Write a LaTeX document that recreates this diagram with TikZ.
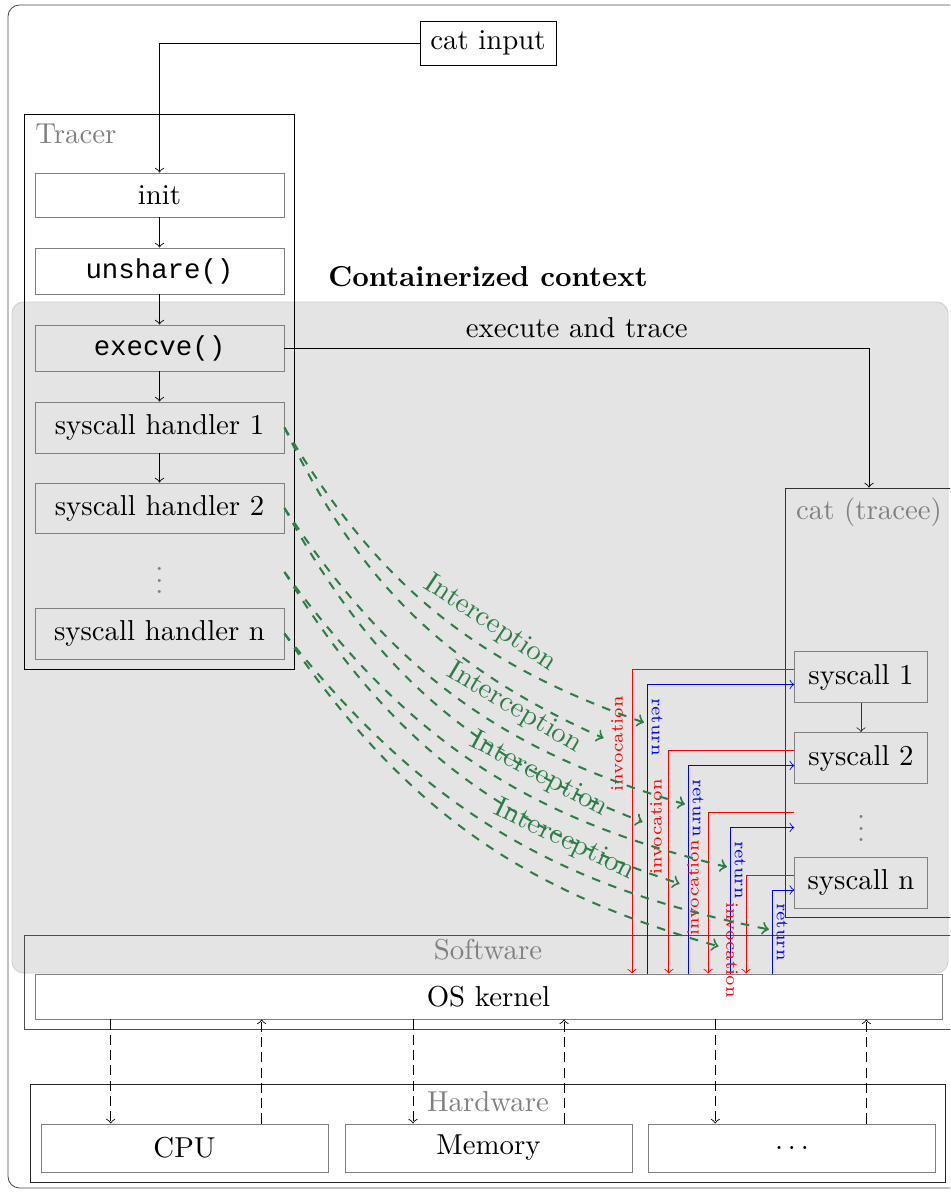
\documentclass[tikz,border=0pt]{standalone}
\usepackage{fontspec}
\setmonofont[Scale=0.95]{Liberation Mono}
\definecolor{ctxgray}{HTML}{E4E4E4}
\definecolor{ctxborder}{HTML}{CFCFCF}
\definecolor{igreen}{HTML}{2E7D46}
\tikzset{
  box/.style={draw=gray, inner sep=0pt, minimum width=86.4pt},
  sbox/.style={draw=gray, inner sep=0pt, minimum width=46pt, minimum height=17.7pt},
  hwbox/.style={draw=gray, inner sep=0pt, minimum width=99.6pt, minimum height=16.7pt},
  lab/.style={text=gray, inner sep=0pt},
  arr/.style={->, black},
  invl/.style={red, font=\fontsize{6}{7}\selectfont, inner sep=2.5pt},
  retl/.style={blue, font=\fontsize{6}{7}\selectfont, inner sep=2.5pt},
  icpt/.style={->, dashed, line width=0.7pt, igreen},
  hwarr/.style={->, black, dash pattern=on 3.5pt off 1.8pt},
}
\begin{document}
\begin{tikzpicture}[x=0.347pt, y=-0.347pt, line width=0.3pt]
\clip (0,0) rectangle (950,1194);
% outer frame
\draw[black!70, rounded corners=4pt] (8,5) rectangle (968,1188);
% containerized context region
\draw[ctxborder, fill=ctxgray, rounded corners=4pt] (12,302) rectangle (948,973);
\node[font=\bfseries, inner sep=0pt] (ctxtitle) at (488,277) {Containerized context};

% cat input
\node[draw, inner sep=0pt, minimum width=47.2pt, minimum height=15.3pt] (catin) at (488,43) {cat input};

% tracer
\node[draw, inner sep=0pt, minimum width=93.7pt, minimum height=192.6pt] (tracer) at (159,391.5) {};
\node[lab] (tracerlab) at (76,134) {Tracer};
\node[box, fill=white, minimum height=15.3pt] (init) at (159.5,195) {init};
\node[box, fill=white, minimum height=16pt] (unshare) at (159.5,271) {\texttt{unshare()}};
\node[box, minimum height=16pt] (execve) at (159.5,348) {\texttt{execve()}};
\node[box, minimum height=17.7pt] (h1) at (159.5,427.5) {syscall handler 1};
\node[box, minimum height=17.4pt] (h2) at (159.5,508) {syscall handler 2};
\node[box, draw=none, text=gray] (hd) at (159.5,572) {$\vdots$};
\node[box, minimum height=17.7pt] (hn) at (159.5,633.5) {syscall handler n};

\draw[arr] (catin.west) -| (init.north);
\draw[arr] (init) -- (unshare);
\draw[arr] (unshare) -- (execve);
\draw[arr] (execve) -- (h1);
\draw[arr] (h1) -- (h2);

% tracee
\node[draw=black!80, inner sep=0pt, minimum width=58.3pt, minimum height=148.9pt] (cat) at (869,702.5) {};
\node[lab] (catlab) at (869,512) {cat (tracee)};
\node[sbox] (s1) at (861,677) {syscall 1};
\node[sbox] (s2) at (861,758) {syscall 2};
\node[sbox, draw=none, text=gray] (sd) at (861,820) {$\vdots$};
\node[sbox] (sn) at (861,882.5) {syscall n};
\draw[arr, black!80] (s1) -- (s2);

\draw[arr] (execve.east) -| node[pos=0.25, above] {execute and trace} (cat.north);

% software / kernel
\node[draw=black!70, inner sep=0pt, minimum width=322pt, minimum height=32.6pt] (sw) at (488,982) {};
\node[lab] (swlab) at (488,950) {Software};
\node[draw=gray, fill=white, inner sep=0pt, minimum width=314.7pt, minimum height=15.6pt] (kernel) at (488.5,996.5) {OS kernel};

% invocation / return paths
\draw[red, ->] ([yshift=2.6pt]s1.west) -| ([xshift=49.8pt]kernel.north);
\draw[blue, ->] ([xshift=55.0pt]kernel.north) |- ([yshift=-2.6pt]s1.west);
\draw[red, ->] ([yshift=2.6pt]s2.west) -| ([xshift=62.6pt]kernel.north);
\draw[blue, ->] ([xshift=69.2pt]kernel.north) |- ([yshift=-2.6pt]s2.west);
\draw[red, ->] ([yshift=2.6pt]sd.west) -| ([xshift=76.2pt]kernel.north);
\draw[blue, ->] ([xshift=83.8pt]kernel.north) |- ([yshift=-2.6pt]sd.west);
\draw[red, ->] ([yshift=2.6pt]sn.west) -| ([xshift=89.4pt]kernel.north);
\draw[blue, ->] ([xshift=98.4pt]kernel.north) |- ([yshift=-2.6pt]sn.west);

\node[invl, rotate=90] (i1) at (617,744) {invocation};
\node[invl, rotate=90] (i2) at (656,827) {invocation};
\node[invl, rotate=90] (i3) at (693,888) {invocation};
\node[invl, rotate=-90] (i4) at (732,950) {invocation};
\node[retl, rotate=-90] (r1) at (657,727) {return};
\node[retl, rotate=-90] (r2) at (698,808) {return};
\node[retl, rotate=-90] (r3) at (740,870) {return};
\node[retl, rotate=-90] (r4) at (782,932) {return};

% interception arrows
\draw[icpt] (h1.east) to[bend right=20] node[pos=0.62, sloped, above] {Interception} (r1);
\draw[icpt] (h1.east) to[bend right=20] (i1);
\draw[icpt] (h2.east) to[bend right=20] node[pos=0.62, sloped, above] {Interception} (r2);
\draw[icpt] (h2.east) to[bend right=20] (i2);
\draw[icpt] (hd.east) to[bend right=20] node[pos=0.62, sloped, above] {Interception} (r3);
\draw[icpt] (hd.east) to[bend right=20] (i3);
\draw[icpt] (hn.east) to[bend right=20] node[pos=0.62, sloped, above] {Interception} (r4);
\draw[icpt] (hn.east) to[bend right=20] (i4);

% hardware
\node[draw=black!85, inner sep=0pt, minimum width=317.5pt, minimum height=34pt] (hw) at (487.5,1133) {};
\node[lab] (hwlab) at (488,1102) {Hardware};
\node[hwbox] (cpu) at (184.5,1148) {CPU};
\node[hwbox] (mem) at (488.5,1148) {Memory};
\node[hwbox] (etc) at (792,1148) {$\dots$};

\draw[hwarr] ([xshift=-131.1pt]kernel.south) -- ([xshift=-131.1pt]kernel.south |- cpu.north);
\draw[hwarr] ([xshift=-78.7pt]kernel.south |- cpu.north) -- ([xshift=-78.7pt]kernel.south);
\draw[hwarr] ([xshift=-26.2pt]kernel.south) -- ([xshift=-26.2pt]kernel.south |- mem.north);
\draw[hwarr] ([xshift=26.2pt]kernel.south |- mem.north) -- ([xshift=26.2pt]kernel.south);
\draw[hwarr] ([xshift=78.7pt]kernel.south) -- ([xshift=78.7pt]kernel.south |- etc.north);
\draw[hwarr] ([xshift=131.1pt]kernel.south |- etc.north) -- ([xshift=131.1pt]kernel.south);
\end{tikzpicture}
\end{document}
